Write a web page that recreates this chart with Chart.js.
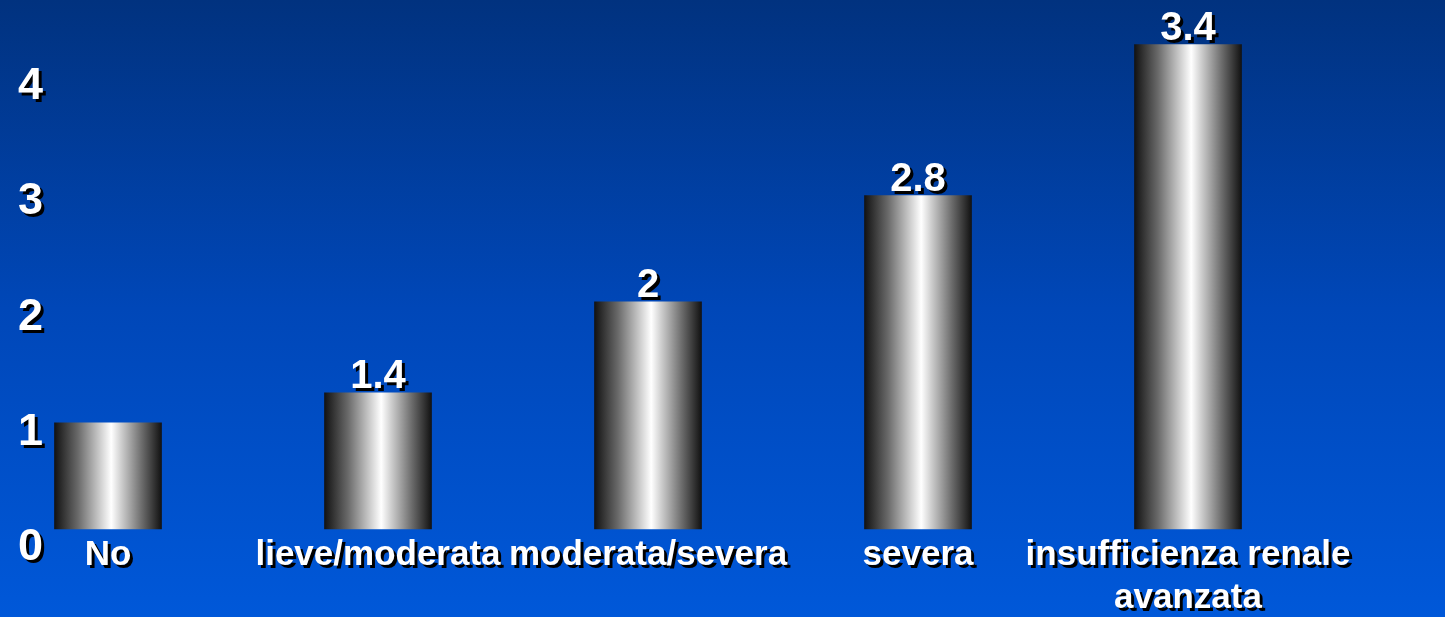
<!DOCTYPE html>
<html>
<head>
<meta charset="utf-8">
<script src="https://cdn.jsdelivr.net/npm/chart.js@4/dist/chart.umd.min.js"></script>
<style>
html, body { margin:0; padding:0; width:1445px; height:617px; overflow:hidden;
  background: linear-gradient(to bottom, #01327f 0%, #0047b8 50%, #0058d9 100%); }
#wrap { position:relative; width:1445px; height:617px; }
canvas { display:block; }
</style>
</head>
<body>
<div id="wrap"><canvas id="c" width="1445" height="617"></canvas></div>
<script>
// ---- data ----
const categories = ["No", "lieve/moderata", "moderata/severa", "severa", ["insufficienza renale", "avanzata"]];
const barValues = [0.92, 1.18, 1.97, 2.89, 4.2];
const valueLabels = ["", "1.4", "2", "2.8", "3.4"];
const yTickValues = [0, 1, 2, 3, 4];

// ---- styles ----
const FONT = '"Liberation Sans", Arial, Helvetica, sans-serif';
const BAR_W = 107;

function barGradient(ctx) {
  const chart = ctx.chart;
  const xs = chart.scales && chart.scales.x;
  if (!xs || ctx.dataIndex === undefined) return '#999';
  const cx = xs.getPixelForValue(ctx.dataIndex);
  if (!isFinite(cx)) return '#999';
  const g = chart.ctx.createLinearGradient(cx - BAR_W / 2, 0, cx + BAR_W / 2, 0);
  g.addColorStop(0, '#121212');
  g.addColorStop(0.22, '#6a6a6a');
  g.addColorStop(0.44, '#d4d4d4');
  g.addColorStop(0.53, '#ffffff');
  g.addColorStop(0.62, '#d0d0d0');
  g.addColorStop(0.82, '#6a6a6a');
  g.addColorStop(1, '#121212');
  return g;
}

function setShadow(c) {
  c.shadowColor = '#000000';
  c.shadowOffsetX = 3;
  c.shadowOffsetY = 3;
  c.shadowBlur = 0;
}

const shadowPlugin = {
  id: 'textShadow',
  beforeDraw(chart) {
    chart.ctx.save();
    setShadow(chart.ctx);
  },
  beforeDatasetsDraw(chart) {
    chart.ctx.shadowColor = 'rgba(0,0,0,0)';
  },
  afterDatasetsDraw(chart) {
    const c = chart.ctx;
    const meta = chart.getDatasetMeta(0);
    c.save();
    setShadow(c);
    c.fillStyle = '#ffffff';
    c.font = 'bold 40px ' + FONT;
    c.textAlign = 'center';
    c.textBaseline = 'alphabetic';
    meta.data.forEach((el, i) => {
      const t = valueLabels[i];
      if (t) c.fillText(t, el.x, el.y - 5);
    });
    c.restore();
    setShadow(c);
  },
  afterDraw(chart) {
    chart.ctx.restore();
  }
};

const chart = new Chart(document.getElementById('c'), {
  type: 'bar',
  data: {
    labels: categories,
    datasets: [{
      data: barValues,
      backgroundColor: barGradient,
      borderWidth: 0,
      barThickness: BAR_W,
      clip: false
    }]
  },
  options: {
    responsive: false,
    animation: false,
    layout: { padding: { top: 10, right: 257, bottom: 0, left: 18 } },
    plugins: { legend: { display: false }, tooltip: { enabled: false } },
    scales: {
      x: {
        offset: false,
        grid: { display: false, drawTicks: false },
        border: { display: false },
        ticks: {
          color: '#ffffff',
          font: { family: FONT, size: 35, weight: 'bold', lineHeight: 1.25 },
          padding: 4,
          maxRotation: 0,
          minRotation: 0,
          autoSkip: false
        },
        afterFit(scale) { scale.height = 88; }
      },
      y: {
        min: 0,
        max: 4.5,
        grid: { display: false, drawTicks: false },
        border: { display: false },
        afterBuildTicks(scale) { scale.ticks = yTickValues.map(v => ({ value: v })); },
        ticks: {
          color: '#ffffff',
          font: { family: FONT, size: 45, weight: 'bold', lineHeight: 0.4 },
          padding: 0,
          crossAlign: 'far',
          labelOffset: 19,
          callback: (v) => String(v)
        },
        afterFit(scale) { scale.width = 90; }
      }
    }
  },
  plugins: [shadowPlugin]
});
chart.update('none');
</script>
</body>
</html>
